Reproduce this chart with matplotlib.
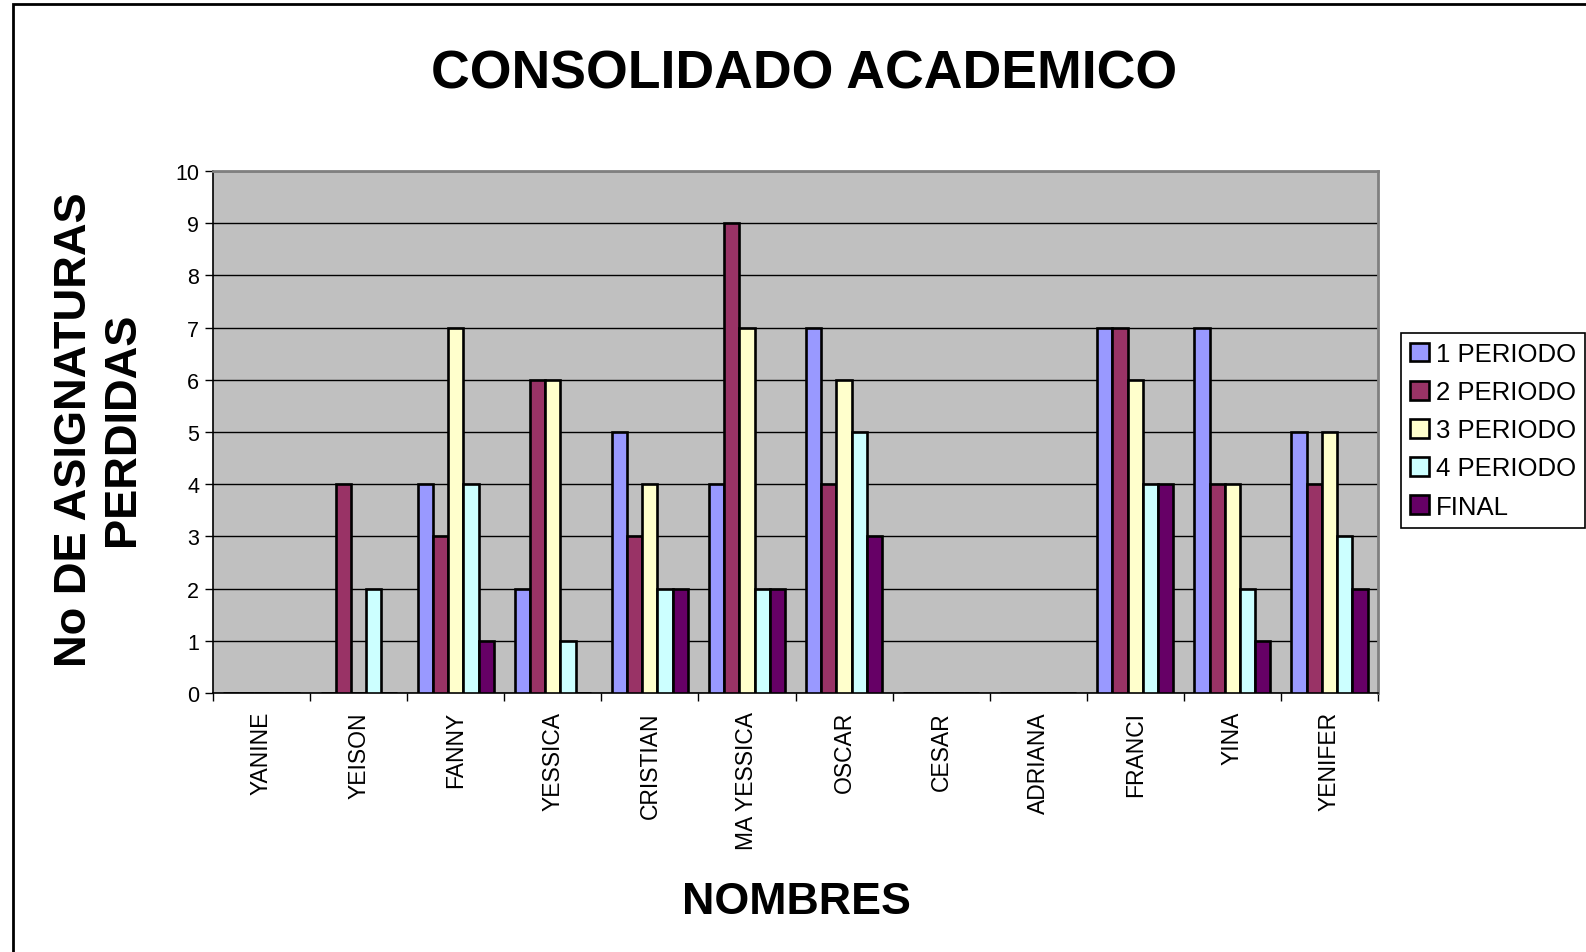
import matplotlib
matplotlib.use("Agg")
import matplotlib.pyplot as plt
import numpy as np
from matplotlib.patches import Rectangle

plt.rcParams['font.family'] = ['Liberation Sans', 'DejaVu Sans']

nombres = ["YANINE", "YEISON", "FANNY", "YESSICA", "CRISTIAN", "MA YESSICA",
           "OSCAR", "CESAR", "ADRIANA", "FRANCI", "YINA", "YENIFER"]
series_names = ["1 PERIODO", "2 PERIODO", "3 PERIODO", "4 PERIODO", "FINAL"]
p1 = [0, 0, 4, 2, 5, 4, 7, 0, 0, 7, 7, 5]
p2 = [0, 4, 3, 6, 3, 9, 4, 0, 0, 7, 4, 4]
p3 = [0, 0, 7, 6, 4, 7, 6, 0, 0, 6, 4, 5]
p4 = [0, 2, 4, 1, 2, 2, 5, 0, 0, 4, 2, 3]
final = [0, 0, 1, 0, 2, 2, 3, 0, 0, 4, 1, 2]
colors = ["#9999FF", "#993366", "#FFFFCC", "#CCFFFF", "#660066"]

W, H = 1586, 953
fig = plt.figure(figsize=(W / 100, H / 100), dpi=100)
ax = fig.add_axes([213 / W, 1 - 694 / H, (1378 - 213) / W, (694 - 172) / H])
ax.set_facecolor("#C0C0C0")

x = np.arange(len(nombres))
bw = 0.157
data = [p1, p2, p3, p4, final]
for i, (vals, name, c) in enumerate(zip(data, series_names, colors)):
    ax.bar(x + (i - 2) * bw, vals, width=bw, color=c, edgecolor="black",
           linewidth=1.9, label=name, zorder=3)

ax.set_xlim(-0.5, len(nombres) - 0.5)
ax.set_ylim(0, 10)
ax.set_yticks(range(0, 11))
ax.yaxis.grid(True, color="black", linewidth=1, zorder=1)
ax.set_axisbelow(True)
ax.tick_params(axis="y", direction="out", length=6, width=1, labelsize=15.5, pad=4)

ax.set_xticks(x)
ax.set_xticklabels(nombres, rotation=90, fontsize=16.5, va="top")
ax.tick_params(axis="x", which="major", length=0, pad=13)
ax.set_xticks(np.arange(-0.5, len(nombres)), minor=True)
ax.tick_params(axis="x", which="minor", direction="out", length=6, width=1)

for s in ["top", "right"]:
    ax.spines[s].set_color("#808080")
    ax.spines[s].set_linewidth(2)
for s in ["left", "bottom"]:
    ax.spines[s].set_color("black")
    ax.spines[s].set_linewidth(1.2)

fig.text(0.507, 0.922, "CONSOLIDADO ACADEMICO", ha="center", va="center",
         fontsize=38.6, fontweight="bold")
fig.text(0.502, 0.053, "NOMBRES", ha="center", va="center",
         fontsize=32.2, fontweight="bold")
fig.text(0.062, 0.549, "No DE ASIGNATURAS\nPERDIDAS", ha="center", va="center",
         rotation=90, fontsize=32.6, fontweight="bold", linespacing=1.2)

leg = fig.legend(loc="upper left", bbox_to_anchor=(1401 / W, 1 - 334 / H),
                 bbox_transform=fig.transFigure, fontsize=18.5, frameon=True,
                 fancybox=False, edgecolor="black", framealpha=1,
                 handlelength=0.75, handleheight=0.75, handletextpad=0.25,
                 labelspacing=0.55, borderpad=0.35, borderaxespad=0)
leg.get_frame().set_linewidth(1.2)

fig.patches.append(Rectangle((13 / W, -0.05), 1.2, 1 - 5 / H + 0.05,
                             transform=fig.transFigure, fill=False,
                             edgecolor="black", linewidth=2, zorder=10))

fig.savefig("out.png", dpi=100, facecolor="white")
